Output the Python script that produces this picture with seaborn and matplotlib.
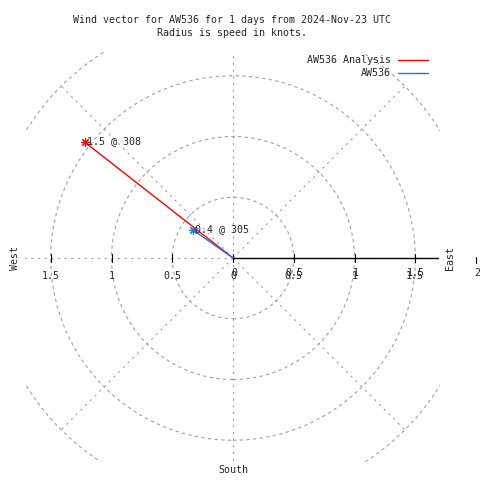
import numpy as np
import pandas as pd
import matplotlib
matplotlib.use("Agg")
import matplotlib.pyplot as plt
import seaborn as sns
from matplotlib.patches import Circle
from matplotlib.lines import Line2D

# vector data
names = ["AW536 Analysis", "AW536"]
speeds = [1.55, 0.40]
directions = [308, 305]
speed_labels = ["1.5 @ 308", "0.4 @ 305"]
colors = ["#ff0000", "#1a78e0"]

# grid / axis labels
grid_radii = [0.5, 1.0, 1.5, 2.0]
spoke_angles = [0, 45, 90, 135, 180, 225, 270, 315]
x_ticks = [-1.5, -1, -0.5, 0, 0.5, 1, 1.5]
x_tick_labels = ["1.5", "1", "0.5", "0", "0.5", "1", "1.5"]
r_ticks = [0, 0.5, 1, 1.5, 2]
r_tick_labels = ["0", "0.5", "1", "1.5", "2"]

sns.set_style("white")
plt.rcParams["font.family"] = ["DejaVu Sans Mono", "DejaVu Sans"]
fs = 7.2
px = 1 / 121.5  # one pixel in data units

# build line table: center -> tip for each series
rows = []
for n, s, d in zip(names, speeds, directions):
    rad = np.deg2rad(d)
    rows.append({"name": n, "x": 0.0, "y": 0.0})
    rows.append({"name": n, "x": s * np.sin(rad), "y": s * np.cos(rad)})
df = pd.DataFrame(rows)

fig = plt.figure(figsize=(4.8, 4.8), dpi=100)
ax = fig.add_axes([25 / 480, 18 / 480, 415 / 480, 410 / 480])
ax.set_xlim(-208 * px, 207 * px)
ax.set_ylim(-204 * px, 206 * px)
ax.set_axis_off()

grid_col = "#a0a0a0"
for r in grid_radii:
    ax.add_patch(Circle((0, 0), r, fill=False, ec=grid_col, lw=0.8,
                        ls=(0, (3, 3)), zorder=1))
for a in spoke_angles:
    t = np.deg2rad(a)
    ax.plot([0, 2 * np.cos(t)], [0, 2 * np.sin(t)], color=grid_col, lw=0.8,
            ls=(0, (2, 4)), zorder=1)

# radial axis (black) with ticks
ax.plot([0, 205 * px], [0, 0], color="black", lw=1, zorder=2)
for t in x_ticks:
    ax.plot([t, t], [-4 * px, 4 * px], color="black", lw=0.8, zorder=2)
ax.plot([2, 2], [-5 * px, 1 * px], color="black", lw=0.8, clip_on=False)

# x-axis labels and r-axis labels (gnuplot prints both, slightly offset)
for t, lab in zip(x_ticks, x_tick_labels):
    ax.text(t, -18 * px, lab, ha="center", va="center", fontsize=fs)
for t, lab in zip(r_ticks, r_tick_labels):
    ax.text(t + 1 * px, -15 * px, lab, ha="center", va="center", fontsize=fs,
            clip_on=False)

# vectors
sns.lineplot(data=df, x="x", y="y", hue="name", palette=colors, sort=False,
             estimator=None, lw=1, legend=False, ax=ax, zorder=3)
tips = df.iloc[1::2]
for (_, row), c, lab in zip(tips.iterrows(), colors, speed_labels):
    ax.plot(row["x"], row["y"], marker=(8, 2, 0), ms=6, mew=0.8, color=c,
            zorder=4)
    ax.text(row["x"] + 2 * px, row["y"] + 1 * px, lab, ha="left", va="center",
            fontsize=fs, zorder=5)

# compass labels
ax.text(-218 * px, 0, "West", rotation=90, ha="center", va="center",
        fontsize=fs, clip_on=False)
ax.text(217 * px, 0, "East", rotation=90, ha="center", va="center",
        fontsize=fs, clip_on=False)
ax.text(0, -212 * px, "South", ha="center", va="center", fontsize=fs,
        clip_on=False)

# legend
handles = [Line2D([], [], color=c, lw=1) for c in colors]
ax.legend(handles, names, markerfirst=False, frameon=False, loc="upper right",
          bbox_to_anchor=(428 / 480, 1 - 55 / 480),
          bbox_transform=fig.transFigure, handlelength=3.0,
          handletextpad=0.7, labelspacing=0.3, borderaxespad=0, borderpad=0,
          fontsize=fs)

fig.text(232 / 480, 1 - 20 / 480,
         "Wind vector for AW536 for 1 days from 2024-Nov-23 UTC",
         ha="center", va="center", fontsize=fs)
fig.text(232 / 480, 1 - 33 / 480, "Radius is speed in knots.",
         ha="center", va="center", fontsize=fs)

fig.savefig("out.png", dpi=100, facecolor="white")
